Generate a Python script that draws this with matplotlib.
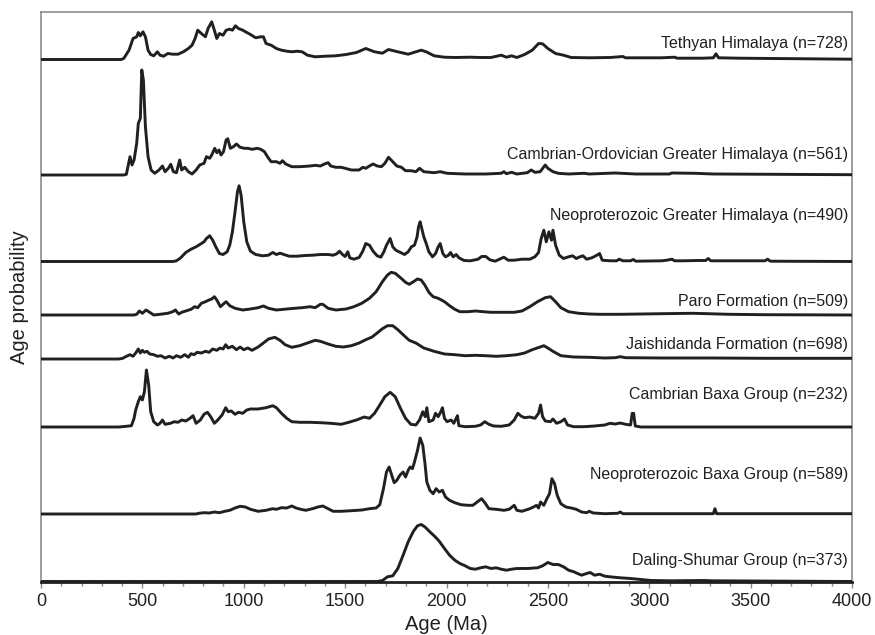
import matplotlib
matplotlib.use("Agg")
import matplotlib.pyplot as plt
from matplotlib.ticker import MultipleLocator

plt.rcParams['font.family'] = ['Liberation Sans', 'DejaVu Sans']

# ---------------- data: (age in Ma, relative age probability) ----------------
labels = [
    "Tethyan Himalaya (n=728)",
    "Cambrian-Ordovician Greater Himalaya (n=561)",
    "Neoproterozoic Greater Himalaya (n=490)",
    "Paro Formation (n=509)",
    "Jaishidanda Formation (n=698)",
    "Cambrian Baxa Group (n=232)",
    "Neoproterozoic Baxa Group (n=589)",
    "Daling-Shumar Group (n=373)",
]

tethyan = [(0,0),(395,0),(408,1),(434,9.3),(454,21),(472,22.7),(480,27),(490,23.7),(503,27.7),(515,22.7),
    (528,9.3),(541,5),(556,3.7),(574,7.7),(587,4.3),(605,3.3),(625,6),(650,5.3),(676,5.3),(702,7.7),
    (727,11),(745,14.3),(760,21),(773,29.3),(791,26),(811,22.7),(824,31),(842,37.7),(855,29.3),(867,21),
    (880,26),(898,24.3),(913,29.3),(931,30.3),(944,29.3),(959,33.7),(974,31),(995,29.3),(1015,27),(1033,25),
    (1059,21.7),(1084,22.7),(1097,22.7),(1110,16),(1135,14.3),(1161,11),(1186,9.3),(1212,8.3),(1237,7.7),
    (1263,8.3),(1288,7.7),(1314,4.3),(1352,2.7),(1403,3.3),(1454,3.7),(1505,5),(1556,7),(1602,11),(1645,7.7),
    (1684,6.3),(1714,10),(1760,7.7),(1811,5.3),(1849,7.7),(1875,9.3),(1900,7.7),(1939,3.7),(1990,2.3),(2041,2),
    (2117,2.3),(2168,2),(2219,2),(2270,4.3),(2296,2.3),(2321,3.7),(2347,2),(2385,5),(2423,9.3),(2454,16),
    (2474,15.7),(2500,11),(2538,6),(2577,4.3),(2615,2),(2704,1.7),(2806,2),(2870,3),(2883,1.7),(3061,1.7),
    (3125,2.3),(3138,1.3),(3265,1.3),(3316,1.7),(3329,5.7),(3342,1.7),(3444,1.3),(4000,0.3)]

cambro_ord_gh = [(0,0),(408,0),(421,0.7),(439,18.3),(449,10),(459,15),(472,31.7),(480,51.7),(490,56.7),(497,105),
    (505,95),(515,48.3),(528,18.3),(543,5),(561,1.7),(582,5),(599,9),(612,3.3),(628,6.7),(640,10.7),
    (653,3.3),(668,2.3),(684,15),(694,5),(709,7.7),(727,3.3),(745,1),(765,5),(783,10),(804,11.7),
    (816,18.3),(832,16.7),(842,20),(857,26.7),(867,22.3),(878,25),(888,20),(900,23.3),(913,35),(921,36.3),
    (934,26.7),(949,28.3),(964,31),(982,27.7),(1003,26.7),(1020,26.7),(1041,25.7),(1066,26.7),(1084,25.7),
    (1102,23.3),(1117,18.3),(1135,13.3),(1161,13.3),(1179,11.7),(1191,14.3),(1207,11),(1237,8.3),(1276,8.3),
    (1327,9),(1352,9.7),(1378,9),(1398,11),(1416,12.3),(1429,9),(1454,7.7),(1480,7.7),(1500,6.7),(1531,5),
    (1569,5),(1587,7.7),(1602,6.7),(1620,9),(1638,11),(1658,9),(1679,8.3),(1696,11.7),(1714,17.7),(1735,13.3),
    (1755,9),(1778,7.7),(1798,4.3),(1824,4.3),(1849,3.3),(1867,6.7),(1888,3.3),(1939,2.3),(1969,3.3),(2003,1.7),
    (2092,1),(2194,1),(2270,1.7),(2283,3.3),(2296,1.3),(2321,2.7),(2347,1),(2398,2.3),(2418,5),(2436,2.7),
    (2462,3.3),(2487,10),(2500,6.7),(2525,3.3),(2551,1.7),(2602,1),(2679,1.7),(2704,1),(2832,2),(2934,1),
    (3099,1),(3112,2),(3227,1.7),(3316,1),(4000,0.3)]

neoprot_gh = [(0,0),(651,0),(668,0.7),(689,3.7),(714,9),(740,12.3),(765,14.7),(778,16.3),(791,18),(804,19.7),
    (816,23),(832,25.7),(847,21.3),(862,14.7),(880,8),(898,7),(918,9.7),(931,16.3),(944,29.7),(957,49.7),
    (969,69.7),(977,75.7),(987,66.3),(1000,39.7),(1015,19.7),(1033,10.3),(1059,7),(1092,5.7),(1122,6.3),
    (1143,9),(1161,7),(1179,8.3),(1199,7),(1224,5.3),(1263,5.3),(1301,6),(1339,6.3),(1378,7),(1416,7),
    (1441,6.3),(1459,7.7),(1472,10.3),(1487,7),(1500,5),(1513,9.7),(1523,3.7),(1543,2.3),(1569,4),(1587,10.3),
    (1602,18),(1620,16.3),(1638,10.3),(1658,5.7),(1676,4.3),(1691,9.7),(1704,16.3),(1722,23),(1735,14.7),
    (1750,11.3),(1773,9),(1793,7),(1811,9.7),(1827,14.7),(1842,16.3),(1855,24.7),(1862,34.7),(1870,39.7),
    (1878,33),(1888,24.7),(1900,18),(1913,9.7),(1931,4.7),(1946,8),(1959,14.7),(1969,18),(1982,8),(1995,4.7),
    (2010,6.3),(2020,9),(2033,4.7),(2048,7),(2061,3.7),(2087,1),(2117,0.7),(2156,2.3),(2173,5),(2194,5),
    (2214,1.7),(2240,0.3),(2258,2),(2283,4.3),(2304,1.3),(2334,1.3),(2372,2.3),(2411,2.3),(2436,4.7),(2454,9),
    (2467,23),(2480,31.3),(2492,19.7),(2505,29.7),(2518,21.3),(2525,31.3),(2538,16.3),(2556,6.3),(2577,3),
    (2602,4.7),(2622,5.7),(2640,3),(2658,4.7),(2673,5.7),(2691,2.3),(2717,3.7),(2742,6.3),(2755,8),(2768,1.3),
    (2806,0.7),(2839,0.7),(2852,2.3),(2870,0.7),(2908,0.7),(2921,2),(2934,0.3),(3061,0.7),(3087,1.3),(3112,2.3),
    (3125,0.7),(3163,0.7),(3240,1),(3278,1),(3291,3),(3303,0.7),(3571,0.7),(3584,2.3),(3597,0.3),(4000,0)]

paro = [(0,0),(459,0),(472,0.7),(485,4),(500,1.7),(518,5),(536,2.7),(556,0),(587,0.7),(625,1.7),(650,3.3),
    (663,5),(679,1),(694,2.7),(714,4),(740,5.7),(758,8.3),(773,7.3),(791,11.7),(811,13.3),(829,15),(842,16),
    (855,18.3),(867,15),(885,8.3),(898,10.7),(913,13.3),(931,9.3),(957,6.7),(995,5),(1033,6),(1071,7.3),
    (1097,9),(1122,6.7),(1161,5),(1212,6),(1250,6.7),(1288,7.3),(1327,8.3),(1352,7.3),(1378,10.7),(1390,10.7),
    (1416,6.7),(1454,5),(1505,6),(1543,8.3),(1582,11.7),(1620,16.7),(1653,23.3),(1684,33.3),(1709,40),
    (1727,42.7),(1747,41.7),(1773,37.3),(1798,32.7),(1816,30.7),(1837,33.3),(1857,36),(1875,35),(1893,30),
    (1913,22.7),(1934,18.3),(1959,16.7),(1990,13.3),(2015,9.3),(2041,5.7),(2066,3.3),(2105,3.3),(2143,4),
    (2181,3.3),(2219,2.7),(2258,2.7),(2296,2.7),(2334,2.7),(2372,4),(2411,8.3),(2449,13.3),(2487,17.3),
    (2513,18.3),(2538,13.3),(2564,7.3),(2602,3.3),(2653,1.7),(2704,1),(2755,0.7),(2857,0.7),(2959,1),
    (3061,1.3),(3214,1.7),(3291,1.3),(3393,0.7),(3571,0.3),(4000,0)]

jaishidanda = [(0,0),(383,0),(403,0.7),(421,2.7),(439,4.3),(454,2.7),(467,6),(480,10),(490,6),(500,8.7),
    (510,6.7),(523,7.7),(536,5),(556,4.3),(574,2.7),(592,3.3),(612,1),(633,2.7),(651,1),(668,3.3),(689,1.7),
    (709,4.3),(727,1.7),(740,5.3),(755,4.3),(770,6.7),(791,6),(811,7.7),(829,6.7),(847,10),(867,8.7),(883,11),
    (898,10),(911,14.3),(923,11),(944,12.7),(964,9.3),(982,12),(1000,9.3),(1020,11),(1041,8.7),(1071,12),
    (1097,16),(1122,20),(1153,21.7),(1179,18.7),(1204,14.3),(1237,11.7),(1276,13.3),(1314,16),(1352,18.7),
    (1378,17.7),(1416,15),(1454,12.7),(1492,12),(1531,13.3),(1569,16),(1602,19.3),(1633,22),(1658,26),
    (1684,30.3),(1709,33.3),(1735,33.3),(1760,29.3),(1786,24.3),(1816,18.7),(1849,16),(1888,11),(1939,7.7),
    (1990,5),(2041,4.3),(2092,3.3),(2143,3.7),(2194,3.3),(2245,2.7),(2296,3.3),(2347,4.3),(2385,6),(2423,9.3),
    (2462,12),(2480,13.3),(2500,11),(2525,7.7),(2564,3.3),(2628,2),(2704,1.7),(2781,1),(2832,1.3),(2857,2.3),
    (2883,1.3),(3061,1),(3316,1),(3571,0.7),(4000,0.7)]

cambrian_baxa = [(0,0),(383,0),(421,0.7),(446,1.3),(459,8.7),(467,17),(480,25.3),(490,30.3),(500,27),
    (510,35.3),(520,57),(531,42),(541,15.3),(556,5.3),(574,2),(587,3.7),(599,7),(612,2.7),(638,3.7),(658,5.3),
    (676,4.7),(694,7),(714,6),(735,8.7),(750,11.3),(765,3.7),(786,7),(804,12.7),(821,14.7),(837,10.3),
    (855,3.7),(872,7),(893,12),(911,19.3),(923,15.3),(939,16),(957,12.7),(974,14.7),(995,13.7),(1015,17),
    (1033,18),(1071,18),(1110,19.3),(1143,21.3),(1161,19.3),(1186,13.7),(1212,8.7),(1237,5.3),(1276,4.7),
    (1327,4.7),(1378,4.3),(1429,3.7),(1480,2.7),(1518,4.7),(1556,7),(1594,10),(1620,8.7),(1645,13.7),(1671,22),
    (1696,30.3),(1722,34.7),(1747,30.3),(1773,18.7),(1798,8.7),(1824,2.7),(1849,2),(1867,7),(1883,15.3),
    (1895,10.3),(1903,19.3),(1913,5.3),(1934,7),(1946,13.7),(1959,10.3),(1972,15.3),(1980,19.3),(1990,8.7),
    (2003,5.3),(2023,7),(2036,3.7),(2054,11.3),(2061,1.3),(2092,0.3),(2143,0.7),(2168,2),(2189,5.3),(2209,2.7),
    (2232,1),(2270,0.7),(2309,2),(2334,7),(2352,13.7),(2367,11),(2385,9.3),(2411,10),(2436,8.7),(2454,13.7),
    (2464,22),(2474,10.3),(2487,6),(2513,5.3),(2525,8),(2543,3.7),(2564,5.3),(2582,8),(2597,2),(2628,0.3),
    (2679,0.3),(2730,1),(2781,2),(2806,3.7),(2832,3),(2857,4),(2883,2.7),(2908,2),(2916,13.7),(2923,13.7),
    (2931,1),(2959,0),(4000,0)]

neoprot_baxa = [(0,0),(765,0),(778,0.7),(804,1.3),(829,1),(855,2),(880,1.3),(906,2.7),(931,3.7),(957,6),
    (982,7.7),(1008,7),(1033,4.7),(1071,2.7),(1110,3.7),(1143,5.3),(1161,4.7),(1186,6.3),(1212,6),(1237,8),
    (1258,6),(1281,4.7),(1306,3.7),(1339,5.3),(1365,7),(1390,8),(1416,5.3),(1441,2.7),(1480,2.7),(1531,3.3),
    (1582,4),(1620,5.3),(1653,6),(1671,9.3),(1689,25.3),(1704,42),(1717,47),(1730,38.7),(1742,31.3),(1755,33.7),
    (1770,38.7),(1786,42),(1798,37),(1811,43.7),(1821,47),(1832,45.3),(1842,52),(1857,63.7),(1870,76),
    (1883,68.7),(1893,52),(1903,32),(1918,23.7),(1934,20.3),(1949,25.3),(1964,22),(1980,23.7),(1995,17),
    (2015,13.7),(2041,11.3),(2071,9.3),(2105,8.7),(2130,8.7),(2156,12.7),(2173,15.3),(2189,11.3),(2209,5.3),
    (2245,4.7),(2283,3.7),(2309,4.7),(2334,8.7),(2347,3.7),(2372,2.7),(2411,5.3),(2429,7),(2444,8.7),(2454,6),
    (2464,12),(2480,8.7),(2495,15.3),(2508,20.3),(2520,35.3),(2533,30.3),(2546,18.7),(2564,10.3),(2589,7),
    (2615,6),(2640,4.7),(2666,2),(2691,1.3),(2704,2.7),(2724,1),(2781,0.3),(2844,0.7),(2857,2),(2870,0.3),
    (3316,0.3),(3324,5.3),(3332,0.3),(4000,0.3)]

daling_shumar = [(0,0),(1658,0),(1684,1),(1709,4.7),(1735,5.7),(1760,13),(1786,26.3),(1811,39.7),(1837,50.3),
    (1857,55.7),(1875,57),(1893,54.7),(1918,49.7),(1944,44.7),(1964,40.3),(1990,33),(2015,26.3),(2041,21.3),
    (2066,18),(2092,15.7),(2117,13),(2143,12.3),(2168,13.7),(2194,14.7),(2219,13),(2245,13.7),(2270,12.3),
    (2296,11.3),(2321,12.3),(2347,13),(2398,13),(2449,13.7),(2474,15.7),(2500,19),(2525,17),(2551,17),
    (2577,14.7),(2602,11.3),(2628,9.7),(2666,6.3),(2691,8),(2709,9),(2730,6.3),(2755,7.3),(2781,5.3),
    (2806,4.7),(2857,3.7),(2908,3),(2959,2),(3010,1),(3112,0.7),(3265,1),(3316,0.7),(4000,0)]

series = [tethyan, cambro_ord_gh, neoprot_gh, paro, jaishidanda, cambrian_baxa, neoprot_baxa, daling_shumar]

xticks = [0, 500, 1000, 1500, 2000, 2500, 3000, 3500, 4000]

# ---------------- layout (vertical stacking offsets, label positions) ----------------
offsets = [522, 406.5, 320, 266.5, 222.5, 154.5, 67.5, 0]
label_y = [538, 427, 366, 280, 237, 186.5, 106.5, 21.5]

fig = plt.figure(figsize=(8.75, 6.35), dpi=100)
ax = fig.add_axes([41/875, 53.5/635, 811/875, 569.5/635])

line_color = '#231f20'
for data, off in zip(series, offsets):
    ages = [p[0] for p in data]
    vals = [p[1] + off for p in data]
    ax.plot(ages, vals, color=line_color, lw=2.1, solid_joinstyle='round', solid_capstyle='butt',
            clip_on=False, zorder=3)

for lab, y in zip(labels, label_y):
    ax.text(3980, y, lab, ha='right', va='center', fontsize=11.5, color='#231f20')

ax.set_xlim(0, 4000)
ax.set_ylim(0, 569.5)
ax.set_xticks(xticks)
ax.set_xticklabels([str(t) for t in xticks])
ax.xaxis.set_minor_locator(MultipleLocator(100))
ax.set_yticks([])
ax.tick_params(axis='x', which='major', direction='out', length=4, width=1, color='#888888',
               labelsize=13, pad=4, labelcolor='#231f20')
ax.tick_params(axis='x', which='minor', direction='out', length=3, width=1, color='#888888')

for s in ['left', 'top', 'right']:
    ax.spines[s].set_color('#8c8c8c')
    ax.spines[s].set_linewidth(1.2)
ax.spines['bottom'].set_color(line_color)
ax.spines['bottom'].set_linewidth(2.0)

ax.set_xlabel('Age (Ma)', fontsize=14.5, color='#231f20', labelpad=4)
ax.set_ylabel('Age probability', fontsize=14.5, color='#231f20')
ax.yaxis.set_label_coords(-0.015, 0.5)

fig.savefig('out.png', dpi=100)
